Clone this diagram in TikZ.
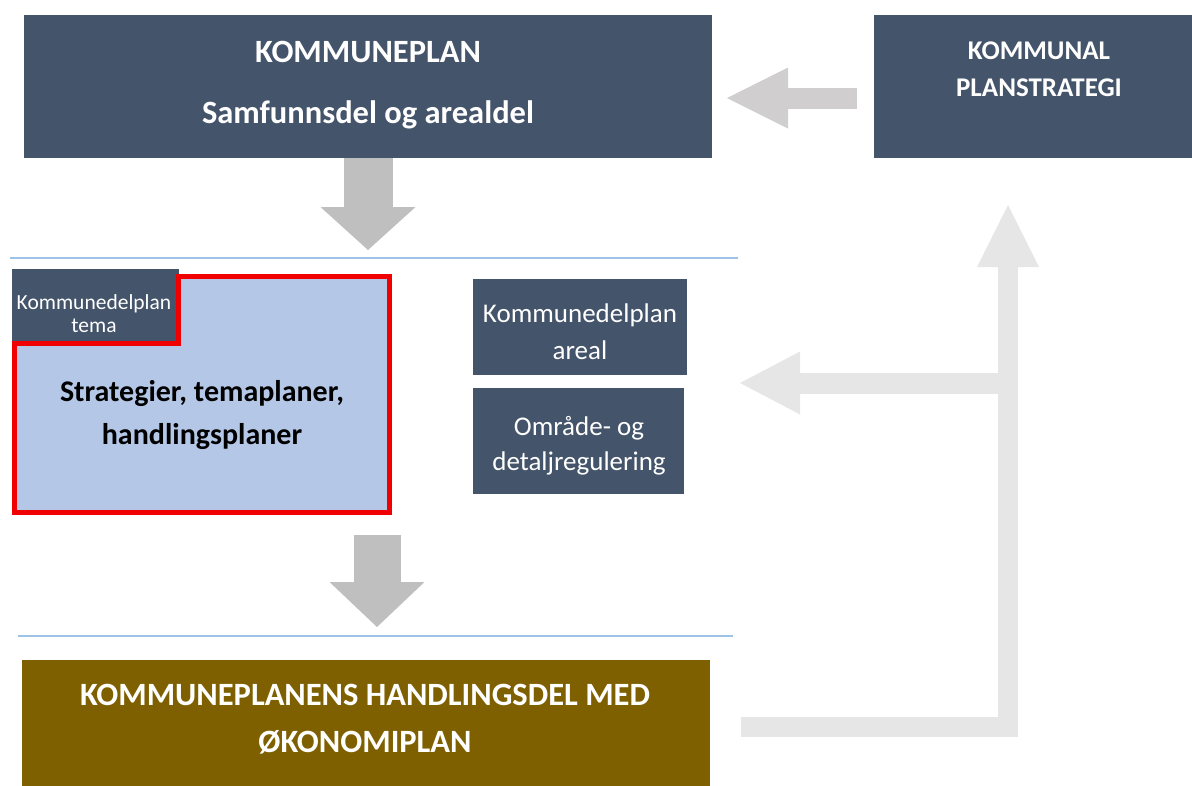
\documentclass[tikz,border=0pt]{standalone}
\usepackage{fontspec}
\setmainfont{Carlito}
\usetikzlibrary{arrows.meta,positioning}

\definecolor{slate}{HTML}{44546A}
\definecolor{paleblue}{HTML}{B4C7E7}
\definecolor{olive}{HTML}{7F6000}
\definecolor{rulerblue}{HTML}{9DC3E6}
\definecolor{arrowgrey}{HTML}{BFBFBF}
\definecolor{midgrey}{HTML}{D0CECE}
\definecolor{feedgrey}{HTML}{E7E6E6}
\definecolor{planred}{HTML}{F00000}

\tikzset{
  darkbox/.style={rectangle,fill=slate,text=white,anchor=north west,inner sep=0pt},
  boxtext/.style={align=center,inner sep=0pt,text=white},
  ruler/.style={draw=rulerblue,line width=1.5pt},
  shaft/.style={draw=#1,line cap=butt,line join=miter}
}

\begin{document}
\begin{tikzpicture}
	[x=1pt,y=-1pt,every node/.style={outer sep=0pt}]

	\useasboundingbox (0,0) rectangle (1192,785);

    % boxes
    \node[darkbox,minimum width=688pt,minimum height=143pt] (kplan) at (24,15) {};
    \node[darkbox,minimum width=318pt,minimum height=143pt] (strat) at (874,15) {};
    \node[darkbox,minimum width=214pt,minimum height=96pt] (areal) at (473,279) {};
    \node[darkbox,minimum width=211pt,minimum height=106pt] (reg) at (473,388) {};
    \node[rectangle,fill=olive,anchor=north west,inner sep=0pt,minimum width=688pt,minimum height=130pt] (hdel) at (22,660) {};

    % temaplan with tab
    \fill[paleblue] (14.5,276.5) rectangle (389.5,512.5);
    \node[darkbox,minimum width=166.5pt,minimum height=74.5pt] (tab) at (12,269) {};
    \draw[planred,line width=5pt,line join=miter] (178.5,276.5) -- (389.5,276.5) -- (389.5,512.5)
        -- (14.5,512.5) -- (14.5,343.5) -- (178.5,343.5) -- cycle;

    % texts
    \node[boxtext,font=\bfseries\fontsize{32.5pt}{61pt}\selectfont] (kplantxt) at (368,85) {KOMMUNEPLAN\\Samfunnsdel og arealdel};
    \node[boxtext,font=\bfseries\fontsize{27pt}{37pt}\selectfont] (strattxt) at (1039,69) {KOMMUNAL\\PLANSTRATEGI};
    \node[boxtext,font=\fontsize{21.5pt}{23pt}\selectfont] (tabtxt) at (94,314) {Kommunedelplan\\tema};
    \node[boxtext,text=black,font=\bfseries\fontsize{30pt}{43pt}\selectfont] (tematxt) at (202,415) {Strategier, temaplaner,\\handlingsplaner};
    \node[boxtext,font=\fontsize{27pt}{37pt}\selectfont] (arealtxt) at (580,332) {Kommunedelplan\\areal};
    \node[boxtext,font=\fontsize{27pt}{35pt}\selectfont] (regtxt) at (579,446) {Område- og\\detaljregulering};
    \node[boxtext,font=\bfseries\fontsize{32.5pt}{47pt}\selectfont] (hdeltxt) at (365,719) {KOMMUNEPLANENS HANDLINGSDEL MED\\ØKONOMIPLAN};

    % rulers
    \coordinate (r1a) at (10,258);
    \coordinate (r1b) at (738,258);
    \coordinate (r2a) at (18,636);
    \coordinate (r2b) at (733,636);
    \draw[ruler] (r1a) -- (r1b);
    \draw[ruler] (r2a) -- (r2b);

    % block arrows
    \coordinate (d2a) at (377,535);
    \coordinate (d2b) at (377,627);
    \coordinate (la) at (857,98);
    \coordinate (lb) at (727,98);
    \coordinate (fba) at (741,727);
    \coordinate (fbb) at (1008,205);
    \coordinate (fbc) at (1008,383);
    \coordinate (fbd) at (740,383);

    \draw[shaft=arrowgrey,line width=49pt,-{Triangle[length=43pt,width=95pt,line width=0pt]}] (kplan.south) -- ++(0,92);
    \draw[shaft=arrowgrey,line width=47pt,-{Triangle[length=45pt,width=95pt,line width=0pt]}] (d2a) -- (d2b);
    \draw[shaft=midgrey,line width=21pt,-{Triangle[length=61pt,width=61pt,line width=0pt]}] (la) -- (lb);
    \draw[shaft=feedgrey,line width=20pt,-{Triangle[length=62pt,width=62pt,line width=0pt]}] (fba) -| (fbb);
    \draw[shaft=feedgrey,line width=21pt,-{Triangle[length=60pt,width=63pt,line width=0pt]}] (fbc) -- (fbd);

\end{tikzpicture}
\end{document}
